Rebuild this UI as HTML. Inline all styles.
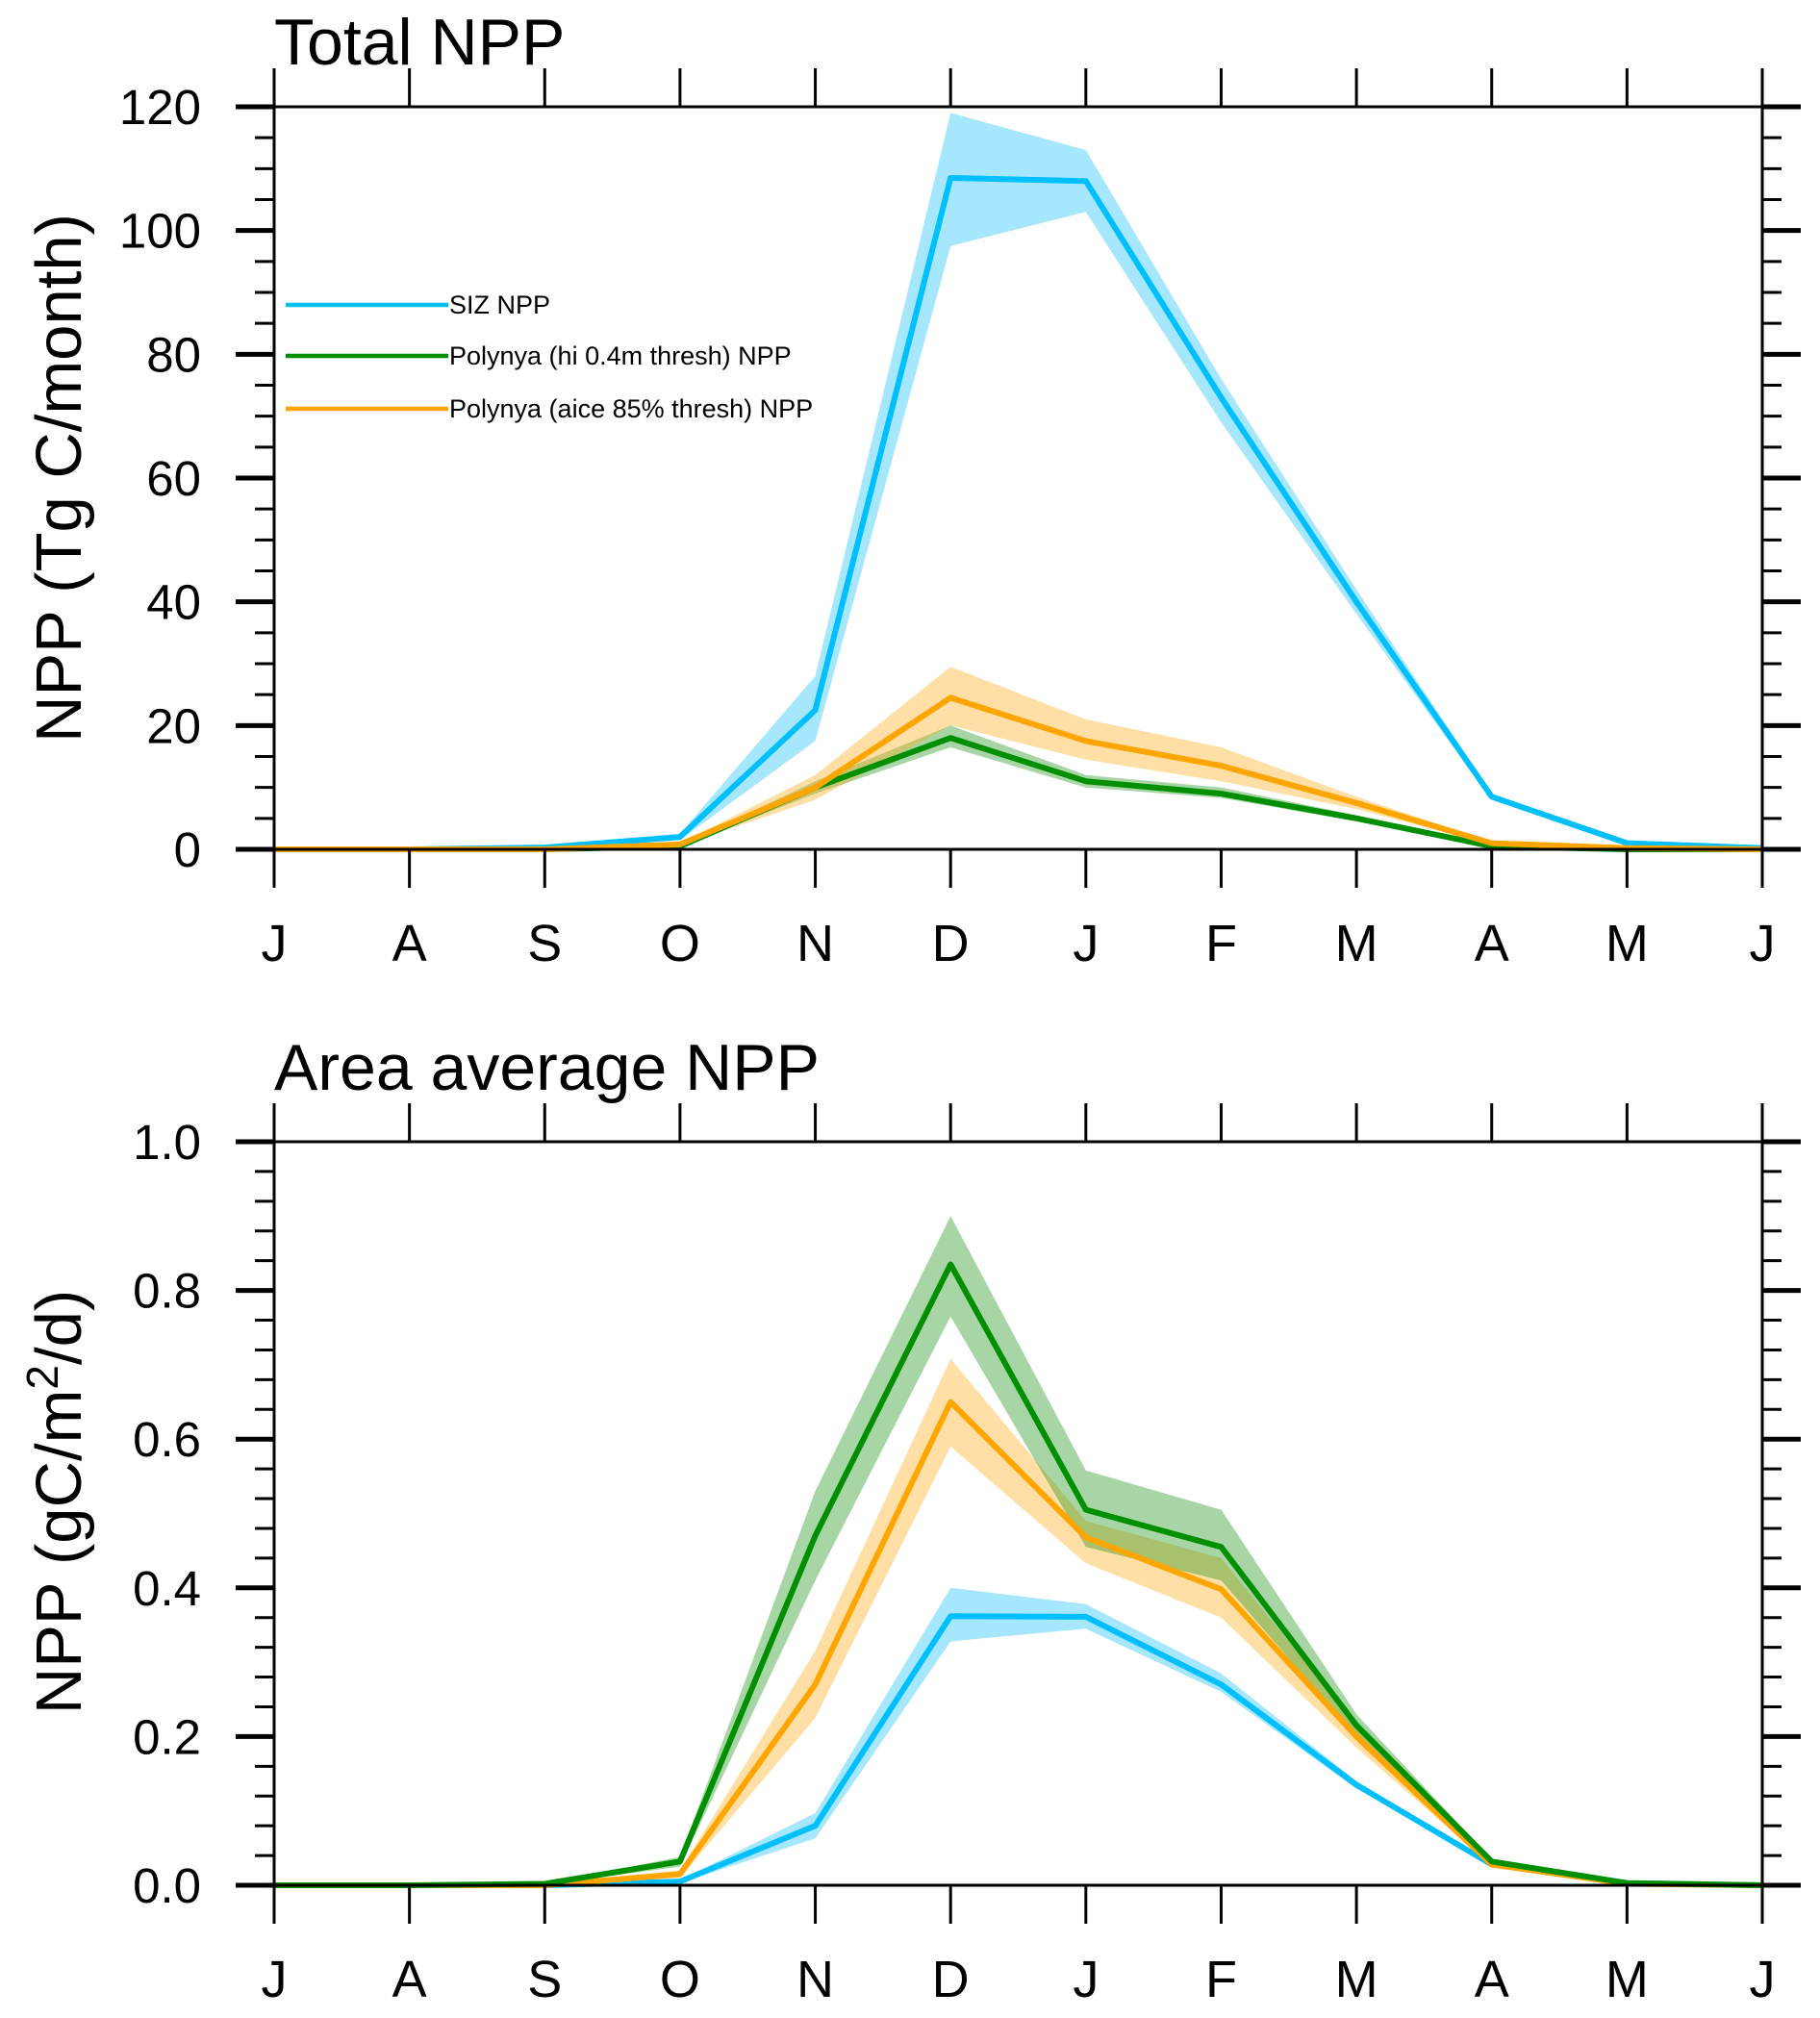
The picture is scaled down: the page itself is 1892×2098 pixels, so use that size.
<!DOCTYPE html>
<html><head><meta charset="utf-8"><style>
html,body{margin:0;padding:0;background:#fff;}
svg{display:block;font-family:"Liberation Sans",Arial,sans-serif;}
</style></head><body>
<svg id="chart" width="1892" height="2098" viewBox="0 0 1892 2098" xmlns="http://www.w3.org/2000/svg"></svg>
<script>
const months = ["J","A","S","O","N","D","J","F","M","A","M","J"];
// Top panel: Total NPP (Tg C/month)
const topSiz   = [0,0,0.3,2,22.5,108.5,108,73,40,8.5,1,0.2];
const topSizLo = [0,0,0.2,1.5,17.5,97.5,103,69,38,8,0.9,0.1];
const topSizHi = [0.1,0.1,0.4,2.5,28,119,113,76,42,9,1.2,0.3];
const topGrn   = [0,0,0,0.5,10,18,11,9,5,0.5,0,0];
const topGrnLo = [0,0,0,0.4,9,16.5,10,8.3,4.5,0.4,0,0];
const topGrnHi = [0,0,0,0.6,11,20,12,10,5.5,0.6,0,0];
const topOrg   = [0,0,0,0.8,10,24.5,17.5,13.5,7.5,1,0.2,0];
const topOrgLo = [0,0,0,0.6,8,20,14.5,11,6.5,0.8,0.1,0];
const topOrgHi = [0,0,0,1,12,29.5,21,16.5,8.5,1.2,0.3,0];
const topTicks = [0,20,40,60,80,100,120];
// Bottom panel: Area average NPP (gC/m2/d)
const botSiz   = [0,0,0,0.005,0.08,0.362,0.361,0.27,0.135,0.028,0.003,0];
const botSizLo = [0,0,0,0.003,0.063,0.328,0.345,0.26,0.13,0.027,0.002,0];
const botSizHi = [0,0,0,0.007,0.097,0.4,0.378,0.285,0.14,0.03,0.004,0];
const botGrn   = [0,0,0.002,0.032,0.47,0.835,0.505,0.455,0.215,0.032,0.003,0];
const botGrnLo = [0,0,0.001,0.025,0.41,0.765,0.455,0.41,0.2,0.03,0.002,0];
const botGrnHi = [0,0,0.003,0.038,0.53,0.9,0.558,0.505,0.23,0.035,0.004,0];
const botOrg   = [0,0,0,0.015,0.27,0.65,0.468,0.398,0.2,0.028,0.002,0];
const botOrgLo = [0,0,0,0.01,0.225,0.59,0.433,0.36,0.185,0.026,0.001,0];
const botOrgHi = [0,0,0,0.02,0.315,0.708,0.49,0.44,0.215,0.03,0.003,0];
const botTicks = ["0.0","0.2","0.4","0.6","0.8","1.0"];
const legendLabels = ["SIZ NPP","Polynya (hi 0.4m thresh) NPP","Polynya (aice 85% thresh) NPP"];

const NS="http://www.w3.org/2000/svg";
const svg=document.getElementById('chart');
function mk(tag,attrs,parent){const e=document.createElementNS(NS,tag);for(const k in attrs)e.setAttribute(k,attrs[k]);(parent||svg).appendChild(e);return e;}
const X0=285,X1=1832;
function xs(i){return X0+(X1-X0)*i/11;}
const BLUE="#00BFFF",GREEN="#008F00",ORANGE="#FFA500";
const BLUEF="rgba(0,185,250,0.35)",GREENF="rgba(20,140,10,0.37)",ORANGEF="rgba(255,170,20,0.38)";

function panel(name,yTop,yBot,ymax,minorStep,majorVals,labels,series,title,titleDy,ytitle,ytitleSup,ytDy){
  const g=mk('g',{});
  
  
  const ys=v=>yBot-(yBot-yTop)*v/ymax;
  series.forEach(s=>{
    let d='';
    s.lo.forEach((v,i)=>{d+=(i?'L':'M')+xs(i).toFixed(1)+','+ys(v).toFixed(1);});
    for(let i=s.hi.length-1;i>=0;i--)d+='L'+xs(i).toFixed(1)+','+ys(s.hi[i]).toFixed(1);
    const p=mk('path',{d:d+'Z',fill:s.fill,stroke:'none'},g);
    
    
  });
  series.forEach(s=>{
    const pts=s.v.map((v,i)=>xs(i).toFixed(1)+','+ys(v).toFixed(1)).join(' ');
    const l=mk('polyline',{points:pts,fill:'none',stroke:s.color,'stroke-width':6,'stroke-linejoin':'round'},g);
    
    
  });
  const fr=mk('rect',{x:X0,y:yTop,width:X1-X0,height:yBot-yTop,fill:'none',stroke:'#000','stroke-width':3},g);
  
  
  for(let v=0;v<=ymax+1e-9;v+=minorStep){
    const y=ys(v);
    const isMajor=majorVals.some(m=>Math.abs(m-v)<1e-6);
    const len=isMajor?40:20;
    mk('line',{x1:X0-len,y1:y,x2:X0,y2:y,stroke:'#000','stroke-width':isMajor?5:3},g);
    mk('line',{x1:X1,y1:y,x2:X1+len,y2:y,stroke:'#000','stroke-width':isMajor?5:3},g);
  }
  majorVals.forEach((v,i)=>{
    const t=mk('text',{x:209,y:ys(v)+18,'text-anchor':'end','font-size':51},g);
    t.textContent=labels[i];
    
    
  });
  months.forEach((m,i)=>{
    mk('line',{x1:xs(i),y1:yTop-40,x2:xs(i),y2:yTop,stroke:'#000','stroke-width':3},g);
    mk('line',{x1:xs(i),y1:yBot,x2:xs(i),y2:yBot+40,stroke:'#000','stroke-width':3},g);
    const t=mk('text',{x:xs(i),y:yBot+116,'text-anchor':'middle','font-size':54},g);
    t.textContent=m;
    
    
  });
  const tt=mk('text',{x:285,y:yTop-56+titleDy,'font-size':68},g);
  tt.textContent=title;
  
  
  const cy=(yTop+yBot)/2+ytDy;
  const yt=mk('text',{x:0,y:0,'text-anchor':'middle','font-size':67,transform:`translate(84,${cy}) rotate(-90)`},g);
  
  
  if(ytitleSup){
    yt.appendChild(document.createTextNode(ytitle[0]));
    const sp=mk('tspan',{dy:-24,'font-size':46},yt);sp.textContent=ytitleSup;
    const sp2=mk('tspan',{dy:24},yt);sp2.textContent=ytitle[1];
  } else yt.textContent=ytitle;
  return g;
}

panel('total-npp-panel',111,883,120,5,topTicks,topTicks.map(String),[
  {key:'siz',v:topSiz,lo:topSizLo,hi:topSizHi,color:BLUE,fill:BLUEF},
  {key:'polynya-hi',v:topGrn,lo:topGrnLo,hi:topGrnHi,color:GREEN,fill:GREENF},
  {key:'polynya-aice',v:topOrg,lo:topOrgLo,hi:topOrgHi,color:ORANGE,fill:ORANGEF}
],'Total NPP',12,'NPP (Tg C/month)',null,0);

panel('area-average-npp-panel',1187,1960,1.0,0.04,botTicks.map(Number),botTicks,[
  {key:'siz',v:botSiz,lo:botSizLo,hi:botSizHi,color:BLUE,fill:BLUEF},
  {key:'polynya-aice',v:botOrg,lo:botOrgLo,hi:botOrgHi,color:ORANGE,fill:ORANGEF},
  {key:'polynya-hi',v:botGrn,lo:botGrnLo,hi:botGrnHi,color:GREEN,fill:GREENF}
],'Area average NPP',2,['NPP (gC/m','/d)'],'2',-12);

const lg=mk('g',{});


const legColors=[BLUE,GREEN,ORANGE];
const legY=[317,370,425];
legendLabels.forEach((lab,i)=>{
  const e=mk('g',{},lg);
  
  
  mk('line',{x1:297,y1:legY[i],x2:466,y2:legY[i],stroke:legColors[i],'stroke-width':4.5},e);
  const t=mk('text',{x:467,y:legY[i]+9,'font-size':27},e);
  t.textContent=lab;
});
</script>
</body></html>
